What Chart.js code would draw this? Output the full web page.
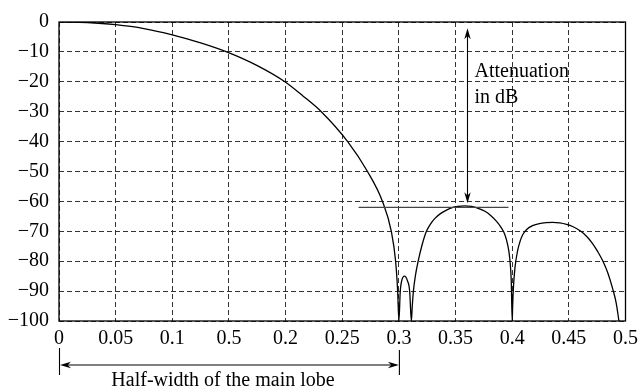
<!DOCTYPE html>
<html>
<head>
<meta charset="utf-8">
<script src="https://cdn.jsdelivr.net/npm/chart.js@4.4.1/dist/chart.umd.min.js"></script>
<style>
    html, body { margin: 0; padding: 0; background: #fff; }
    #wrap { width: 644px; height: 389px; position: relative; }
</style>
</head>
<body>
<div id="wrap"><canvas id="lobeChart"></canvas></div>
<script>
// Tick positions and labels (the 4th label really reads "0.5" in the original)
const xTickValues = [0, 0.05, 0.1, 0.15, 0.2, 0.25, 0.3, 0.35, 0.4, 0.45, 0.5];
const xTickLabels = ['0', '0.05', '0.1', '0.5', '0.2', '0.25', '0.3', '0.35', '0.4', '0.45', '0.5'];
const yTickValues = [0, -10, -20, -30, -40, -50, -60, -70, -80, -90, -100];

// Response, lobe by lobe
const mainLobeFreq = [0, 0.025, 0.05, 0.075, 0.1, 0.125, 0.148, 0.175, 0.1994, 0.2155, 0.2315, 0.2548, 0.2723, 0.2855, 0.2933, 0.2971, 0.2989, 0.3];
const mainLobeDb   = [0, -0.2, -0.9, -2.2, -4.3, -7.0, -10, -14.6, -20, -24.8, -30, -40, -50, -60, -70, -80, -90, -100];

const lobe1Freq = [0.3012, 0.3025, 0.305, 0.3075, 0.3095, 0.311];
const lobe1Db   = [-90, -86.5, -85, -86.5, -90, -100];

const lobe2Freq = [0.3118, 0.3128, 0.3145, 0.317, 0.3205, 0.3243, 0.328, 0.332, 0.337, 0.342, 0.347, 0.352, 0.358,
                   0.364, 0.37, 0.376, 0.381, 0.386, 0.39, 0.3934, 0.396, 0.3978, 0.3992, 0.4];
const lobe2Db   = [-95, -90, -85, -80, -74.5, -70, -67.5, -65.6, -64, -62.9, -62.1, -61.7, -61.5,
                   -61.7, -62.3, -63.3, -64.7, -66.6, -68.6, -71, -74.5, -79, -87, -100];

const lobe3Freq = [0.4004, 0.4012, 0.4025, 0.4045, 0.407, 0.4095, 0.413, 0.418, 0.424, 0.43, 0.4358, 0.442,
                   0.448, 0.4533, 0.4606, 0.466, 0.4708, 0.4755, 0.4801, 0.4845, 0.4889, 0.4918, 0.4942];
const lobe3Db   = [-95, -88, -82, -77, -73.3, -71, -69.3, -68.1, -67.4, -67.1, -67, -67.2,
                   -67.7, -68.4, -70, -71.8, -74, -76.8, -80, -84, -89.5, -94, -100];

const attenuationLevel = -62;

function toPoints(xs, ys) {
    return xs.map((x, i) => ({ x: x, y: ys[i] }));
}

const curve = [].concat(
    toPoints(mainLobeFreq, mainLobeDb),
    toPoints(lobe1Freq, lobe1Db),
    toPoints(lobe2Freq, lobe2Db),
    toPoints(lobe3Freq, lobe3Db)
);

const FONT = '"Liberation Serif", "Times New Roman", serif';
const FONT_SIZE = 20;

function arrowHead(ctx, x, y, dx, dy) {
    // filled narrow arrowhead with tip at (x, y), pointing along (dx, dy)
    const len = 11, half = 3.2;
    const px = -dy, py = dx;
    ctx.beginPath();
    ctx.moveTo(x, y);
    ctx.lineTo(x - dx * len + px * half, y - dy * len + py * half);
    ctx.lineTo(x - dx * len * 0.7, y - dy * len * 0.7);
    ctx.lineTo(x - dx * len - px * half, y - dy * len - py * half);
    ctx.closePath();
    ctx.fill();
}

// frame + annotations
const annotate = {
    id: 'annotate',
    afterDatasetsDraw(chart) {
        const { ctx, chartArea: a, scales: { x, y } } = chart;
        ctx.save();
        ctx.strokeStyle = '#000';
        ctx.fillStyle = '#000';
        ctx.setLineDash([]);

        // solid frame
        ctx.lineWidth = 1.3;
        ctx.strokeRect(a.left, a.top, a.right - a.left, a.bottom - a.top);

        // attenuation reference line
        ctx.strokeStyle = '#444';
        ctx.lineWidth = 1.4;
        const yl = y.getPixelForValue(attenuationLevel);
        ctx.beginPath();
        ctx.moveTo(x.getPixelForValue(0.2644), yl);
        ctx.lineTo(x.getPixelForValue(0.3967), yl);
        ctx.stroke();

        // vertical double arrow
        ctx.strokeStyle = '#000';
        ctx.lineWidth = 1.1;
        const xa = Math.round(x.getPixelForValue(0.3605)) + 0.5;
        const yTop = y.getPixelForValue(-2.1);
        const yBot = y.getPixelForValue(-60.6);
        ctx.beginPath();
        ctx.moveTo(xa, yTop + 6);
        ctx.lineTo(xa, yBot - 6);
        ctx.stroke();
        arrowHead(ctx, xa, yTop, 0, -1);
        arrowHead(ctx, xa, yBot, 0, 1);

        ctx.font = FONT_SIZE + 'px ' + FONT;
        ctx.textAlign = 'left';
        ctx.textBaseline = 'middle';
        ctx.fillText('Attenuation', xa + 7, y.getPixelForValue(-16.5));
        ctx.fillText('in dB', xa + 7, y.getPixelForValue(-25.3));

        // half-width arrow below the axis
        const x0 = x.getPixelForValue(0);
        const x1 = x.getPixelForValue(0.3);
        const yb = a.bottom + 44;
        ctx.lineWidth = 1.1;
        ctx.beginPath();
        ctx.moveTo(x0 + 0.5, a.bottom + 27);
        ctx.lineTo(x0 + 0.5, a.bottom + 54);
        ctx.moveTo(x1 + 0.5, a.bottom + 29);
        ctx.lineTo(x1 + 0.5, a.bottom + 54);
        ctx.moveTo(x0 + 6, yb);
        ctx.lineTo(x1 - 6, yb);
        ctx.stroke();
        arrowHead(ctx, x0 + 1, yb, -1, 0);
        arrowHead(ctx, x1, yb, 1, 0);

        ctx.textAlign = 'center';
        ctx.fillText('Half-width of the main lobe', 223, a.bottom + 60);
        ctx.restore();
    }
};

Chart.defaults.font.family = FONT;

const canvas = document.getElementById('lobeChart');
new Chart(canvas.getContext('2d'), {
    type: 'line',
    data: {
        datasets: [{
            data: curve,
            borderColor: '#000',
            borderWidth: 1.3,
            pointRadius: 0,
            fill: false,
            cubicInterpolationMode: 'monotone'
        }]
    },
    options: {
        responsive: true,
        maintainAspectRatio: false,
        animation: false,
        layout: { padding: { left: 0, right: 14, top: 20, bottom: 0 } },
        plugins: { legend: { display: false }, tooltip: { enabled: false } },
        scales: {
            x: {
                type: 'linear',
                min: 0,
                max: 0.5,
                afterBuildTicks: (scale) => { scale.ticks = xTickValues.map(v => ({ value: v })); },
                afterFit: (scale) => { scale.height = 68; },
                grid: { color: '#333', lineWidth: 1, drawTicks: false, borderDash: [5, 3] },
                border: { display: false, dash: [5, 3] },
                ticks: {
                    autoSkip: false,
                    maxRotation: 0,
                    padding: 6,
                    color: '#000',
                    font: { family: FONT, size: FONT_SIZE },
                    callback: (v, i) => xTickLabels[i]
                }
            },
            y: {
                min: -100,
                max: 0,
                afterBuildTicks: (scale) => { scale.ticks = yTickValues.map(v => ({ value: v })); },
                afterFit: (scale) => { scale.width = 59; },
                grid: { color: '#333', lineWidth: 1, drawTicks: false, borderDash: [5, 3] },
                border: { display: false, dash: [5, 3] },
                ticks: {
                    padding: 10,
                    color: '#000',
                    font: { family: FONT, size: FONT_SIZE },
                    callback: (v) => v === 0 ? '0' : '\u2212' + Math.abs(v)
                }
            }
        }
    },
    plugins: [annotate]
});
</script>
</body>
</html>
